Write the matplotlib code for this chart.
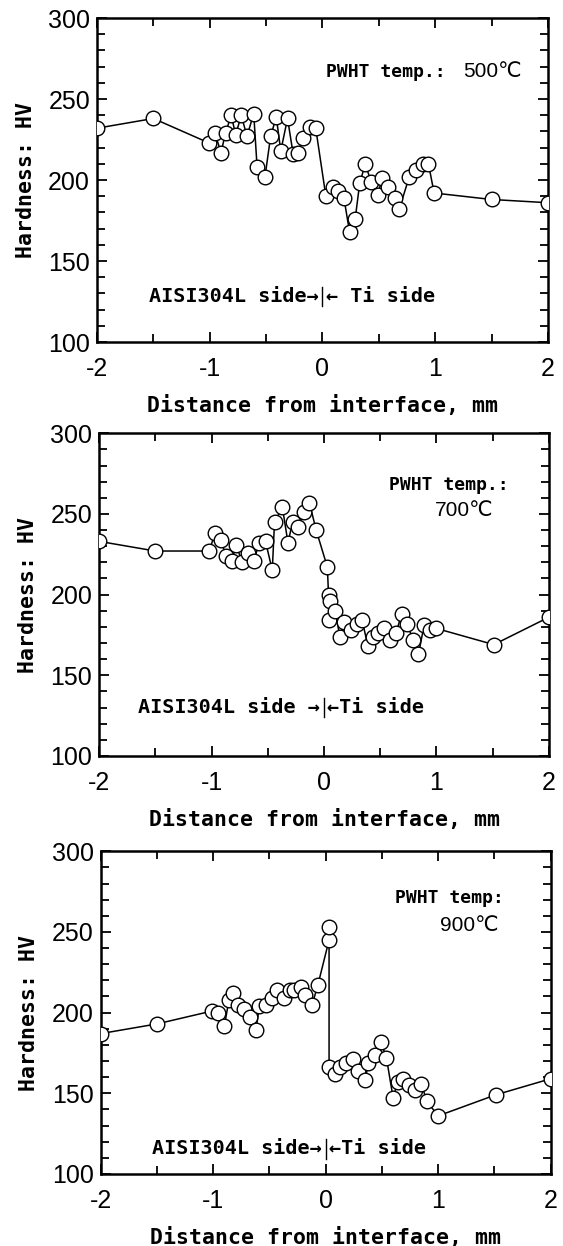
import matplotlib
matplotlib.use("Agg")
import matplotlib.pyplot as plt
from matplotlib.ticker import MultipleLocator, FixedLocator

# ---------------- data ----------------
x_500 = [-2.0, -1.5, -1.01, -0.955, -0.90, -0.86, -0.81, -0.77, -0.72, -0.67, -0.61, -0.58,
         -0.51, -0.46, -0.41, -0.37, -0.31, -0.26, -0.22, -0.17, -0.11, -0.06,
         0.03, 0.09, 0.14, 0.19, 0.24, 0.29, 0.33, 0.38, 0.43, 0.49, 0.53, 0.58,
         0.64, 0.68, 0.77, 0.83, 0.89, 0.94, 0.99, 1.5, 2.0]
hv_500 = [232, 238, 223, 229, 217, 229, 240, 228, 240, 227, 241, 208,
          202, 227, 239, 218, 238, 216, 217, 226, 233, 232,
          190, 196, 193, 189, 168, 176, 198, 210, 199, 191, 201, 196,
          189, 182, 202, 206, 210, 210, 192, 188, 186]

x_700 = [-2.0, -1.5, -1.02, -0.97, -0.92, -0.87, -0.82, -0.78, -0.73, -0.68, -0.62, -0.58,
         -0.52, -0.46, -0.44, -0.37, -0.32, -0.28, -0.23, -0.18, -0.13, -0.07,
         0.03, 0.04, 0.05, 0.04, 0.10, 0.14, 0.18, 0.24, 0.29, 0.34, 0.39, 0.44,
         0.48, 0.53, 0.59, 0.64, 0.69, 0.74, 0.79, 0.84, 0.89, 0.94, 1.0, 1.51, 2.0]
hv_700 = [233, 227, 227, 238, 234, 224, 221, 231, 220, 226, 221, 232,
          233, 215, 245, 254, 232, 245, 242, 251, 257, 240,
          217, 200, 196, 184, 190, 174, 183, 178, 182, 184, 168, 174,
          176, 179, 172, 176, 188, 182, 172, 163, 181, 178, 179, 169, 186]

x_900 = [-2.0, -1.5, -1.01, -0.96, -0.90, -0.86, -0.82, -0.78, -0.73, -0.67, -0.62, -0.59,
         -0.53, -0.48, -0.43, -0.37, -0.32, -0.28, -0.22, -0.18, -0.12, -0.07,
         0.03, 0.03, 0.03, 0.08, 0.13, 0.18, 0.24, 0.29, 0.35, 0.38, 0.44, 0.49,
         0.54, 0.60, 0.64, 0.69, 0.74, 0.79, 0.85, 0.90, 1.0, 1.51, 2.0]
hv_900 = [187, 193, 201, 200, 192, 208, 212, 205, 202, 197, 189, 204,
          205, 209, 214, 209, 214, 214, 216, 211, 205, 217,
          245, 253, 166, 162, 166, 169, 171, 164, 158, 169, 174, 182,
          172, 147, 157, 159, 155, 152, 156, 145, 136, 149, 159]

xlim = (-2, 2)
ylim = (100, 300)
x_labels = ["-2", "-1", "0", "1", "2"]
y_labels = ["100", "150", "200", "250", "300"]
xlabel = "Distance from interface, mm"
ylabel = "Hardness: HV"

panels = [
    dict(x=x_500, y=hv_500, rect=[0.1723, 0.7255, 0.801, 0.260],
         head=("PWHT temp.:", 0.03, 267), temp=("500℃", 1.25, 267),
         left=("AISI304L side→", -0.03, 128), right=("← Ti side", 0.03, 128)),
    dict(x=x_700, y=hv_700, rect=[0.176, 0.3933, 0.799, 0.259],
         head=("PWHT temp.:", 0.58, 268), temp=("700℃", 0.99, 252),
         left=("AISI304L side →", -0.035, 130), right=("←Ti side", 0.03, 130)),
    dict(x=x_900, y=hv_900, rect=[0.179, 0.0578, 0.799, 0.259],
         head=("PWHT temp:", 0.62, 271), temp=("900℃", 1.02, 254),
         left=("AISI304L side→", -0.035, 115.5), right=("←Ti side", 0.03, 115.5)),
]

mono = ["DejaVu Sans Mono", "DejaVu Sans"]
sans = ["Liberation Sans", "DejaVu Sans"]

fig = plt.figure(figsize=(5.63, 12.46), dpi=100)
fig.patch.set_facecolor("white")

for p in panels:
    ax = fig.add_axes(p["rect"])
    ax.plot(p["x"], p["y"], color="black", lw=1.1, marker="o", ms=10.5,
            mfc="white", mec="black", mew=1.0, zorder=3)
    ax.set_xlim(*xlim)
    ax.set_ylim(*ylim)
    ax.xaxis.set_major_locator(FixedLocator([-2, -1, 0, 1, 2]))
    ax.xaxis.set_minor_locator(MultipleLocator(0.5))
    ax.yaxis.set_major_locator(FixedLocator([100, 150, 200, 250, 300]))
    ax.yaxis.set_minor_locator(MultipleLocator(10))
    ax.set_xticklabels(x_labels, family=sans, fontsize=18)
    ax.set_yticklabels(y_labels, family=sans, fontsize=18)
    ax.tick_params(which="both", direction="in", top=True, right=True, width=1.3)
    ax.tick_params(which="major", length=7)
    ax.tick_params(which="minor", length=6)
    ax.tick_params(axis="x", which="major", pad=11)
    ax.tick_params(axis="y", which="major", pad=5)
    for s in ax.spines.values():
        s.set_linewidth(1.8)
    ax.set_xlabel(xlabel, family=mono, fontweight="bold", fontsize=15.5, labelpad=10)
    ax.set_ylabel(ylabel, family=mono, fontweight="bold", fontsize=15.5, labelpad=9)

    t, tx, ty = p["head"]
    ax.text(tx, ty, t, family=mono, fontweight="bold", fontsize=13,
            ha="left", va="center")
    t, tx, ty = p["temp"]
    ax.text(tx, ty, t, family=sans + ["Noto Sans CJK JP"], fontsize=15,
            ha="left", va="center")
    t, tx, ty = p["left"]
    ax.text(tx, ty, t, family=mono, fontweight="bold", fontsize=14.5,
            ha="right", va="center")
    t, tx, ty = p["right"]
    ax.text(tx, ty, t, family=mono, fontweight="bold", fontsize=14.5,
            ha="left", va="center")
    ax.plot([0, 0], [ty - 6, ty + 6], color="black", lw=1.0)

fig.savefig("out.png", dpi=100, facecolor="white")
